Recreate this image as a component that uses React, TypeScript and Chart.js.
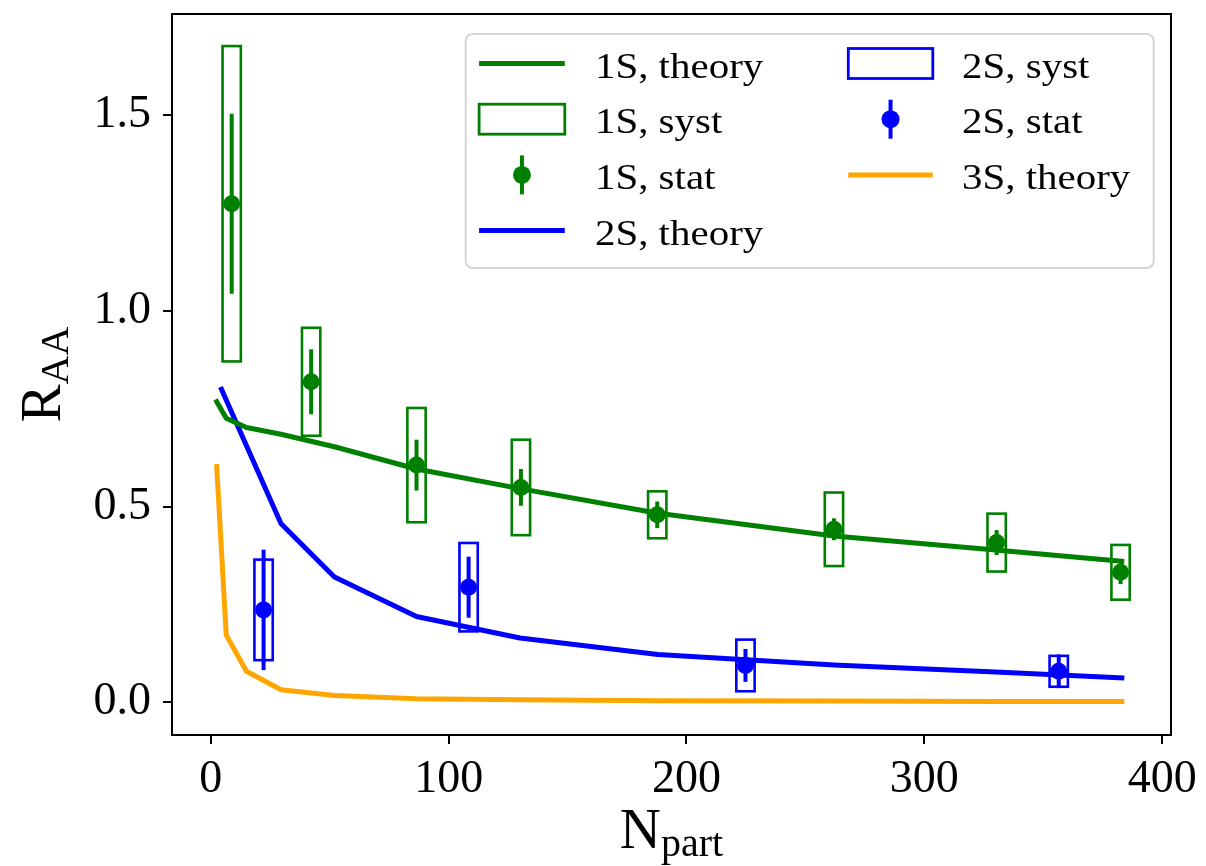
import React, { useEffect, useRef } from 'react';
import { Chart, registerables } from 'chart.js';

Chart.register(...registerables);

const FONT = '"Liberation Serif", "DejaVu Serif", serif';
const GREEN = '#008000';
const BLUE = '#0000ff';
const ORANGE = '#ffa500';

// axis ticks
const xTicks = [0, 100, 200, 300, 400];
const yTicks = [0, 0.5, 1.0, 1.5];
const xMin = -16.3;
const xMax = 403.7;
const yMin = -0.0838;
const yMax = 1.759;

// theory curves
const theoryX = [2.5, 6.5, 15, 29.5, 52, 86.5, 130, 188, 262, 330, 383];
const theory1S = [0.768, 0.726, 0.702, 0.685, 0.653, 0.596, 0.546, 0.483, 0.425, 0.389, 0.360];
const theory3S = [0.602, 0.172, 0.079, 0.032, 0.017, 0.009, 0.006, 0.004, 0.003, 0.002, 0.002];
const theory2SX = [4.5, 29.5, 52, 86.5, 130, 188, 262, 330, 383];
const theory2S = [0.800, 0.457, 0.320, 0.219, 0.164, 0.122, 0.095, 0.077, 0.062];

// 1S data
const npart1S = [8.8, 42.2, 86.5, 130.4, 187.7, 262, 330.4, 382.5];
const raa1S = [1.274, 0.819, 0.606, 0.549, 0.479, 0.442, 0.408, 0.332];
const stat1S = [0.23, 0.083, 0.065, 0.047, 0.034, 0.028, 0.032, 0.03];
const syst1S = [0.403, 0.138, 0.146, 0.122, 0.06, 0.094, 0.074, 0.07];

// 2S data
const npart2S = [22.2, 108.4, 224.8, 356.5];
const raa2S = [0.236, 0.294, 0.094, 0.079];
const stat2S = [0.154, 0.078, 0.042, 0.043];
const syst2S = [0.1285, 0.113, 0.066, 0.0395];

const boxHalfWidth = 3.85;

const legendCol1 = ['1S, theory', '1S, syst', '1S, stat', '2S, theory'];
const legendCol2 = ['2S, syst', '2S, stat', '3S, theory'];

const pts = (xs: number[], ys: number[]) => xs.map((x, i) => ({ x, y: ys[i] }));

const customPlugin = {
  id: 'custom',
  beforeDatasetsDraw(chart: any) {
    const { ctx, chartArea, scales } = chart;
    const x = scales.x;
    const y = scales.y;
    ctx.save();
    ctx.beginPath();
    ctx.rect(chartArea.left, chartArea.top, chartArea.right - chartArea.left, chartArea.bottom - chartArea.top);
    ctx.clip();
    const boxes = (xs: number[], ys: number[], es: number[], color: string) => {
      ctx.strokeStyle = color;
      ctx.lineWidth = 2.6;
      ctx.lineJoin = 'miter';
      xs.forEach((xv, i) => {
        const l = x.getPixelForValue(xv - boxHalfWidth);
        const r = x.getPixelForValue(xv + boxHalfWidth);
        const t = y.getPixelForValue(ys[i] + es[i]);
        const b = y.getPixelForValue(ys[i] - es[i]);
        ctx.strokeRect(l, t, r - l, b - t);
      });
    };
    const errs = (xs: number[], ys: number[], es: number[], color: string) => {
      ctx.strokeStyle = color;
      ctx.lineWidth = 4;
      ctx.lineCap = 'butt';
      xs.forEach((xv, i) => {
        const px = x.getPixelForValue(xv);
        ctx.beginPath();
        ctx.moveTo(px, y.getPixelForValue(ys[i] + es[i]));
        ctx.lineTo(px, y.getPixelForValue(ys[i] - es[i]));
        ctx.stroke();
      });
    };
    boxes(npart1S, raa1S, syst1S, GREEN);
    boxes(npart2S, raa2S, syst2S, BLUE);
    errs(npart1S, raa1S, stat1S, GREEN);
    errs(npart2S, raa2S, stat2S, BLUE);
    ctx.restore();
  },
  afterDraw(chart: any) {
    const { ctx, chartArea } = chart;
    const { left, right, top, bottom } = chartArea;
    ctx.save();
    // frame
    ctx.strokeStyle = '#000';
    ctx.lineWidth = 2;
    ctx.strokeRect(left, top, right - left, bottom - top);

    // legend
    const lw = 688;
    const lh = 234;
    const lx = right - 17.3 - lw;
    const ly = top + 20;
    ctx.beginPath();
    ctx.roundRect(lx, ly, lw, lh, 7);
    ctx.fillStyle = 'rgba(255,255,255,0.8)';
    ctx.fill();
    ctx.strokeStyle = '#d6d6d6';
    ctx.lineWidth = 2;
    ctx.stroke();

    const rowY = (i: number) => ly + 29.5 + i * 55.7;
    const drawHandle = (kind: string, color: string, x0: number, x1: number, cy: number) => {
      ctx.save();
      if (kind === 'line') {
        ctx.strokeStyle = color;
        ctx.lineWidth = 5;
        ctx.lineCap = 'butt';
        ctx.beginPath();
        ctx.moveTo(x0, cy);
        ctx.lineTo(x1, cy);
        ctx.stroke();
      } else if (kind === 'box') {
        ctx.strokeStyle = color;
        ctx.lineWidth = 2.8;
        ctx.strokeRect(x0, cy - 15, x1 - x0, 30);
      } else {
        const cx = (x0 + x1) / 2;
        ctx.strokeStyle = color;
        ctx.lineWidth = 4;
        ctx.beginPath();
        ctx.moveTo(cx, cy - 19.5);
        ctx.lineTo(cx, cy + 19.5);
        ctx.stroke();
        ctx.fillStyle = color;
        ctx.beginPath();
        ctx.arc(cx, cy, 9, 0, Math.PI * 2);
        ctx.fill();
      }
      ctx.restore();
    };
    const legendText = (t: string, x: number, baseline: number) => {
      ctx.save();
      ctx.translate(x, baseline);
      ctx.scale(1.17, 1);
      ctx.font = `35px ${FONT}`;
      ctx.fillStyle = '#000';
      ctx.textBaseline = 'alphabetic';
      ctx.textAlign = 'left';
      ctx.fillText(t, 0, 0);
      ctx.restore();
    };
    const col1Kinds = [['line', GREEN], ['box', GREEN], ['stat', GREEN], ['line', BLUE]];
    const col2Kinds = [['box', BLUE], ['stat', BLUE], ['line', ORANGE]];
    legendCol1.forEach((t, i) => {
      const cy = rowY(i);
      drawHandle(col1Kinds[i][0], col1Kinds[i][1], lx + 13.4, lx + 99.1, cy);
      legendText(t, lx + 129.2, cy + 14);
    });
    legendCol2.forEach((t, i) => {
      const cy = rowY(i);
      drawHandle(col2Kinds[i][0], col2Kinds[i][1], lx + 382.6, lx + 467.1, cy);
      legendText(t, lx + 496.3, cy + 14);
    });

    // x axis title: N_part
    const bigFont = `57px ${FONT}`;
    const subFont = `40px ${FONT}`;
    ctx.fillStyle = '#000';
    ctx.textBaseline = 'alphabetic';
    ctx.textAlign = 'left';
    ctx.font = bigFont;
    const wN = ctx.measureText('N').width;
    ctx.font = subFont;
    const wPart = ctx.measureText('part').width;
    const cx = (left + right) / 2;
    const sx = cx - (wN + wPart) / 2;
    ctx.font = bigFont;
    ctx.fillText('N', sx, 848);
    ctx.font = subFont;
    ctx.fillText('part', sx + wN, 856);

    // y axis title: R_AA
    ctx.save();
    ctx.translate(60, (top + bottom) / 2);
    ctx.rotate(-Math.PI / 2);
    ctx.font = bigFont;
    const wR = ctx.measureText('R').width;
    ctx.font = subFont;
    const wAA = ctx.measureText('AA').width;
    const st = -(wR + wAA) / 2;
    ctx.font = bigFont;
    ctx.fillText('R', st, 0);
    ctx.font = subFont;
    ctx.fillText('AA', st + wR, 8);
    ctx.restore();

    ctx.restore();
  },
};

export default function App() {
  const ref = useRef<HTMLCanvasElement | null>(null);
  useEffect(() => {
    if (!ref.current) return;
    const chart = new Chart(ref.current, {
      type: 'scatter',
      data: {
        datasets: [
          {
            label: '1S, theory',
            data: pts(theoryX, theory1S),
            showLine: true,
            borderColor: GREEN,
            backgroundColor: GREEN,
            borderWidth: 5,
            pointRadius: 0,
            borderCapStyle: 'square',
            borderJoinStyle: 'round',
          },
          {
            label: '2S, theory',
            data: pts(theory2SX, theory2S),
            showLine: true,
            borderColor: BLUE,
            backgroundColor: BLUE,
            borderWidth: 5,
            pointRadius: 0,
            borderCapStyle: 'square',
            borderJoinStyle: 'round',
          },
          {
            label: '3S, theory',
            data: pts(theoryX, theory3S),
            showLine: true,
            borderColor: ORANGE,
            backgroundColor: ORANGE,
            borderWidth: 5,
            pointRadius: 0,
            borderCapStyle: 'square',
            borderJoinStyle: 'round',
          },
          {
            label: '1S, stat',
            data: pts(npart1S, raa1S),
            backgroundColor: GREEN,
            borderWidth: 0,
            pointRadius: 8.5,
          },
          {
            label: '2S, stat',
            data: pts(npart2S, raa2S),
            backgroundColor: BLUE,
            borderWidth: 0,
            pointRadius: 8.5,
          },
        ] as any,
      },
      options: {
        animation: false,
        responsive: false,
        devicePixelRatio: 1,
        layout: { padding: { top: 14, right: 35, left: 0, bottom: 0 } },
        plugins: {
          legend: { display: false },
          tooltip: { enabled: false },
          title: { display: false },
        },
        scales: {
          x: {
            type: 'linear',
            min: xMin,
            max: xMax,
            afterBuildTicks: (s: any) => {
              s.ticks = xTicks.map((v) => ({ value: v }));
            },
            afterFit: (s: any) => {
              s.height = 131;
              s.paddingLeft = 0;
              s.paddingRight = 0;
            },
            grid: { display: true, drawOnChartArea: false, drawTicks: true, tickLength: 9, lineWidth: 2, color: '#000' },
            border: { display: false },
            ticks: {
              font: { family: FONT, size: 46 },
              color: '#000',
              padding: 8,
              maxRotation: 0,
              autoSkip: false,
              callback: (v: any) => String(v),
            },
          },
          y: {
            type: 'linear',
            min: yMin,
            max: yMax,
            afterBuildTicks: (s: any) => {
              s.ticks = yTicks.map((v) => ({ value: v }));
            },
            afterFit: (s: any) => {
              s.width = 172;
              s.paddingTop = 0;
              s.paddingBottom = 0;
            },
            grid: { display: true, drawOnChartArea: false, drawTicks: true, tickLength: 9, lineWidth: 2, color: '#000' },
            border: { display: false },
            ticks: {
              font: { family: FONT, size: 46 },
              color: '#000',
              padding: 12,
              autoSkip: false,
              callback: (v: any) => Number(v).toFixed(1),
            },
          },
        },
      } as any,
      plugins: [customPlugin],
    });
    return () => chart.destroy();
  }, []);
  return (
    <div style={{ position: 'fixed', left: 0, top: 0, width: 1206, height: 866, background: '#fff' }}>
      <canvas ref={ref} width={1206} height={866} style={{ display: 'block', width: 1206, height: 866 }} />
    </div>
  );
}
